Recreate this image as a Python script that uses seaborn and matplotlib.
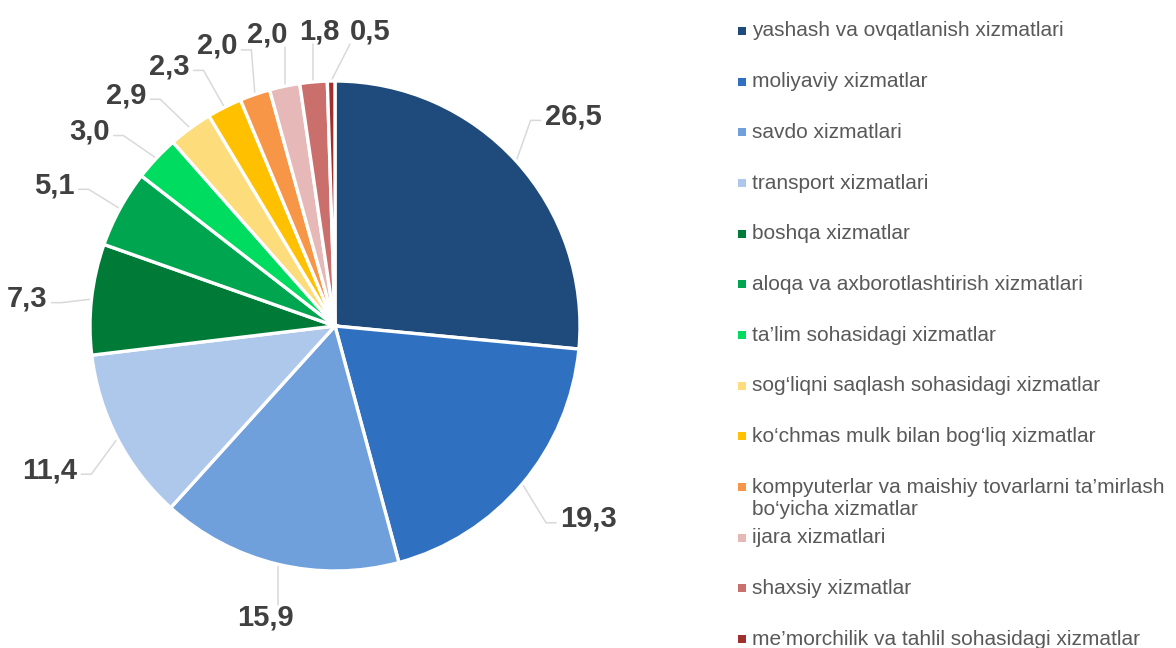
import matplotlib
matplotlib.use("Agg")
import matplotlib.pyplot as plt
import numpy as np
import seaborn as sns

# Services structure, share in percent
categories = [
    "yashash va ovqatlanish xizmatlari",
    "moliyaviy xizmatlar",
    "savdo xizmatlari",
    "transport xizmatlari",
    "boshqa xizmatlar",
    "aloqa va axborotlashtirish xizmatlari",
    "ta\u2019lim sohasidagi xizmatlar",
    "sog\u2018liqni saqlash sohasidagi xizmatlar",
    "ko\u2018chmas mulk bilan bog\u2018liq xizmatlar",
    "kompyuterlar va maishiy tovarlarni ta\u2019mirlash\nbo\u2018yicha xizmatlar",
    "ijara xizmatlari",
    "shaxsiy xizmatlar",
    "me\u2019morchilik va tahlil sohasidagi xizmatlar",
]
shares = [26.5, 19.3, 15.9, 11.4, 7.3, 5.1, 3.0, 2.9, 2.3, 2.0, 2.0, 1.8, 0.5]
colors = [
    "#1F4A7C", "#2F71C0", "#6FA0DB", "#ADC8EB", "#007A37", "#00A64F",
    "#00DC5F", "#FDDC7C", "#FFC000", "#F79646", "#E6B8B7", "#CB6F6D", "#A0302D",
]
value_labels = [f"{v:.1f}".replace(".", ",") for v in shares]

# layout (pixel units, origin bottom-left)
W, H = 1176, 648
CX, CY, R = 335, 322, 245
LABEL_COLOR = "#404040"
LEADER_COLOR = "#D9D9D9"

sns.set_theme(style="white")
plt.rcParams["font.family"] = ["Liberation Sans", "DejaVu Sans"]

fig = plt.figure(figsize=(W / 100, H / 100), dpi=100)
ax = fig.add_axes([0, 0, 1, 1])

wedges, _ = ax.pie(
    shares,
    colors=colors,
    startangle=90,
    counterclock=False,
    radius=R,
    center=(CX, CY),
    wedgeprops=dict(edgecolor="white", linewidth=2.4),
)

# mid angle of every slice, unwrapped so it decreases clockwise
mids = np.array([(w.theta1 + w.theta2) / 2 for w in wedges])
mids = np.degrees(np.unwrap(np.radians(mids)))
if mids[-1] > mids[0]:
    mids = mids[0] - np.abs(mids - mids[0])

# spread crowded labels apart
lab = mids.copy()
min_gap = 9.5
for _ in range(400):
    for i in range(len(lab) - 1):
        d = lab[i] - lab[i + 1]
        if d < min_gap:
            s = (min_gap - d) / 2
            lab[i] += s
            lab[i + 1] -= s
lab = lab + 1.0

renderer = fig.canvas.get_renderer()
for mid, a, txt in zip(mids, lab, value_labels):
    t = ax.text(0, 0, txt, ha="center", va="center", fontsize=21,
                fontweight="bold", color=LABEL_COLOR)
    bb = t.get_window_extent(renderer)
    hw, hh = bb.width / 2, bb.height / 2
    ar = np.radians(a)
    rr = 1.17 * R + 12 * abs(np.sin(2 * ar))
    cx = CX + rr * np.cos(ar) + hw * np.cos(ar)
    cy = CY + rr * np.sin(ar) + hh * 0.5 * np.sin(ar)
    t.set_position((cx, cy))

    m = np.radians(mid)
    x0, y0 = CX + R * np.cos(m), CY + R * np.sin(m)
    if abs(np.cos(ar)) > 0.35:
        side = np.sign(np.cos(ar))
        x2, y2 = cx - side * (hw + 4), cy - 4
        x1, y1 = x2 - side * 10, y2
        ax.plot([x0, x1, x2], [y0, y1, y2], color=LEADER_COLOR, lw=1.1,
                solid_joinstyle="miter", zorder=0)
    else:
        vs = np.sign(np.sin(ar))
        x2 = np.clip(x0, cx - hw, cx + hw)
        y2 = cy - vs * (hh * 0.75 + 2)
        ax.plot([x0, x2], [y0, y2], color=LEADER_COLOR, lw=1.1, zorder=0)

# legend drawn as a fixed-pitch list on the right
slot0, pitch = H - 31, 50.67
leg_font = dict(fontsize=15, color="#595959", linespacing=1.2)
probe1 = ax.text(0, 0, "Ag", **leg_font)
probe2 = ax.text(0, 0, "Ag\nAg", **leg_font)
line_px = (probe2.get_window_extent(renderer).height
           - probe1.get_window_extent(renderer).height)
probe1.remove()
probe2.remove()

for i, (name, c) in enumerate(zip(categories, colors)):
    y = slot0 - i * pitch
    ax.scatter([742], [y], marker="s", s=26, color=c, linewidths=0)
    n_extra = name.count("\n")
    ax.text(752, y - n_extra * line_px / 2, name, ha="left", va="center",
            **leg_font)

ax.set_xlim(0, W)
ax.set_ylim(0, H)
ax.set_aspect("equal")
ax.axis("off")

fig.savefig("out.png", dpi=100, facecolor="white")
